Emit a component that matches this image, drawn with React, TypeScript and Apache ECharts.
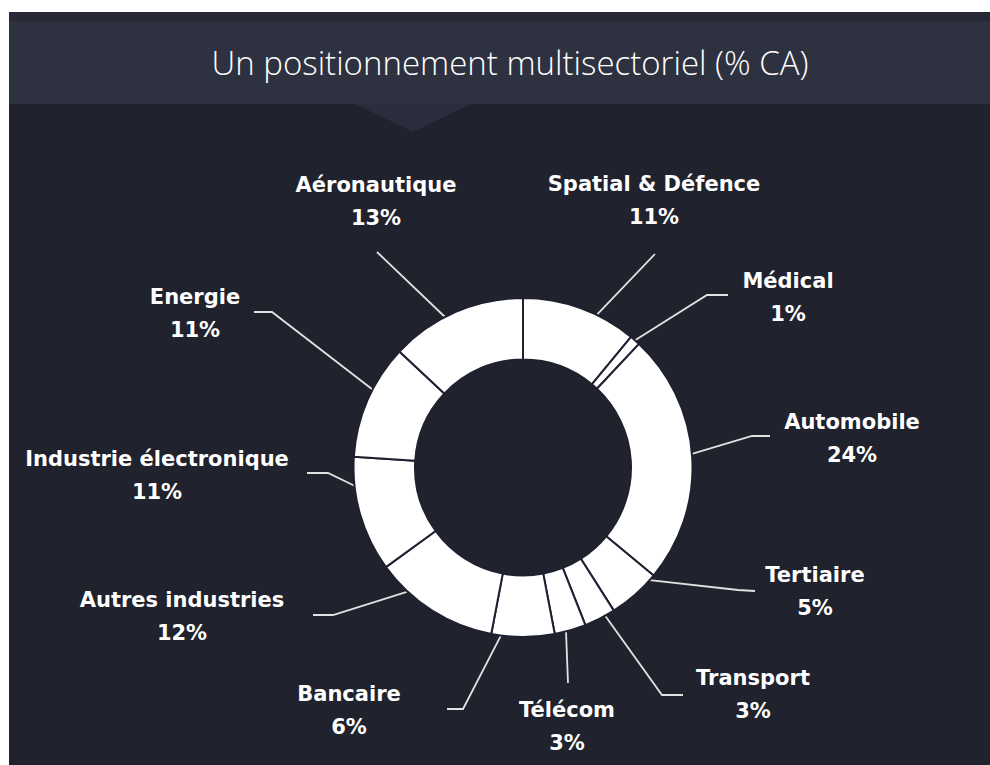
import React, { useEffect, useRef } from "react";
import * as echarts from "echarts";

// ---- data ----
const SECTORS = [
  "Spatial & Défence",
  "Médical",
  "Automobile",
  "Tertiaire",
  "Transport",
  "Télécom",
  "Bancaire",
  "Autres industries",
  "Industrie électronique",
  "Energie",
  "Aéronautique",
];
const SHARES = [11, 1, 24, 5, 3, 3, 6, 12, 11, 11, 13];
const TITLE = "Un positionnement multisectoriel (% CA)";

// ---- layout (label placement / leader lines) ----
const CX = 523;
const CY = 467.5;
const R_IN = 108;
const R_OUT = 169.5;
const LABEL_POS = [
  [654, 200], [788, 297], [852, 438], [815, 591], [753, 694], [567, 726],
  [349, 710], [182, 616], [157, 475], [195, 313], [376, 201],
];
const LINE_BEND = [
  [655, 254], [707, 295], [752, 436], [738, 590], [662, 695], [568, 683],
  [463, 709], [333, 615], [328, 473], [272, 312], [377, 252],
];
const LINE_END = [
  [655, 254], [728, 295], [770, 436], [755, 591], [683, 695], [568, 683],
  [447, 709], [313, 615], [307, 473], [254, 312], [377, 252],
];
const ANCHOR_SHIFT = [6, 0, -1, -7, -2, 1.5, 7.5, 10.5, 10, 4, -4];

export default function App() {
  const ref = useRef<HTMLDivElement>(null);
  useEffect(() => {
    if (!ref.current) return;
    const chart = echarts.init(ref.current, null, { renderer: "svg" });
    const total = SHARES.reduce((a, b) => a + b, 0);
    const mids: number[] = [];
    let acc = 0;
    SHARES.forEach((v) => {
      mids.push(((acc + v / 2) / total) * 360);
      acc += v;
    });
    chart.setOption({
      animation: false,
      backgroundColor: "#ffffff",
      graphic: [
        { type: "rect", silent: true, z: -10, shape: { x: 9, y: 12, width: 981, height: 753 }, style: { fill: "#20222d" } },
        { type: "rect", silent: true, z: -9, shape: { x: 9, y: 12, width: 981, height: 9 }, style: { fill: "#272a36" } },
        { type: "rect", silent: true, z: -9, shape: { x: 9, y: 21, width: 981, height: 83 }, style: { fill: "#2e3140" } },
        {
          type: "polygon", silent: true, z: -9,
          shape: { points: [[355, 104], [471, 104], [413, 132]] },
          style: { fill: "#2a2d3b" },
        },
        {
          type: "text", silent: true, z: 10, x: 510, y: 62,
          style: {
            text: TITLE, fill: "#ffffff", fontSize: 33, fontWeight: 300,
            fontFamily: "'Open Sans', sans-serif", align: "center", verticalAlign: "middle",
          },
        },
      ],
      series: [
        {
          type: "pie",
          center: [CX, CY],
          radius: [R_IN, R_OUT],
          startAngle: 90,
          clockwise: true,
          avoidLabelOverlap: false,
          itemStyle: { color: "#ffffff", borderColor: "#1f2130", borderWidth: 2 },
          emphasis: { disabled: true },
          label: {
            show: true,
            formatter: "{b}\n{c}%",
            color: "#ffffff",
            fontSize: 21,
            fontWeight: "bold",
            lineHeight: 33,
            fontFamily: "'DejaVu Sans', sans-serif",
            align: "center",
          },
          labelLine: { show: true, lineStyle: { color: "#e2e2e2", width: 1.8 } },
          labelLayout: (p: any) => {
            const i = p.dataIndex;
            const a = ((mids[i] + ANCHOR_SHIFT[i]) * Math.PI) / 180;
            const sx = CX + R_OUT * Math.sin(a);
            const sy = CY - R_OUT * Math.cos(a);
            return {
              x: LABEL_POS[i][0],
              y: LABEL_POS[i][1],
              align: "center",
              verticalAlign: "middle",
              labelLinePoints: [[sx, sy], LINE_BEND[i], LINE_END[i]],
            };
          },
          data: SECTORS.map((name, i) => ({ name, value: SHARES[i] })),
        },
      ],
    });
    return () => chart.dispose();
  }, []);
  return (
    <div
      ref={ref}
      style={{ position: "fixed", left: 0, top: 0, width: 990, height: 765 }}
    />
  );
}
